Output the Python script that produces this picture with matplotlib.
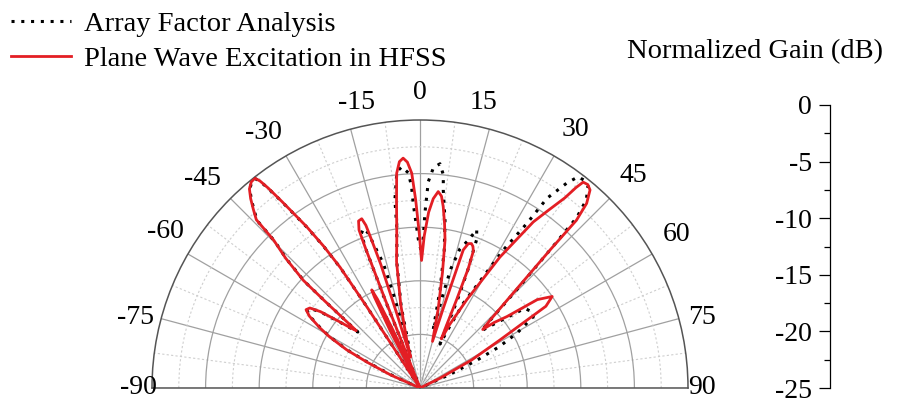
import numpy as np
import matplotlib.pyplot as plt
from matplotlib.lines import Line2D

plt.rcParams['font.family'] = ['Liberation Serif', 'DejaVu Serif']

# pattern cuts: angle (deg) and normalized gain (dB)
hfss_theta = [-90, -70, -66, -64, -62.5, -60.5, -59, -57, -55.5, -54, -52.5, -50.5, -49, -48,
              -47.6, -47.3, -46, -44.7, -44.2, -43, -41.8, -40.6, -39.3, -38.2, -37.7, -37.2, -36.5,
              -35.1, -34.2, -33.5, -33.2, -33,
              -28.5, -27.5, -26.6, -26.2, -25.6, -25, -24.4,
              -21.8, -21.5, -21.3, -21.1, -20.2, -19, -18.4, -18.1, -17.6, -17.3, -17,
              -15.5, -13, -10.5, -8.9, -7.1, -6.2, -5.2, -4.2, -3.2, -2.2, -1.3, -0.3, 0.7,
              1.6, 2.8, 4, 5.3, 6.4, 7.3, 8.5, 9.6, 11, 13, 15,
              16.2, 17.1, 17.4, 18.5, 19.6, 20.5, 21.3, 22, 22.5, 23, 23.5,
              25, 27.9, 31.4, 34.3, 35.8, 37.3, 37.9, 38.4, 39.5, 40.65, 42.07, 43, 43.3, 44.6, 46, 47,
              48.5, 50.6, 53, 55.3, 57, 59, 61.5, 64, 66, 90]
hfss_gain = [-25, -25, -22, -19.5, -17.3, -15.3, -14.1, -12.7, -12.1, -12.3, -13.3, -15.3, -16.5, -17,
             -13, -10.2, -7.6, -5.6, -3.1, -2.2, -1.3, -0.55, -0.15, -0.1, -0.6, -1.6, -3.4,
             -6.6, -9.0, -11.5, -16, -25,
             -25, -19, -15.5, -14.8, -15.8, -19, -25,
             -25, -16, -11, -9.2, -8.4, -8.3, -9.0, -10.5, -12.9, -18, -22,
             -20.4, -17, -13, -11, -7.3, -4.85, -3.8, -3.5, -3.9, -4.95, -7.5, -10.5, -13.1,
             -10.8, -8.6, -7.3, -6.6, -7.0, -7.95, -9.5, -11, -14, -17.5, -20.5,
             -17.5, -13.7, -11.5, -10.8, -10.7, -10.9, -11.3, -13, -16, -19, -20,
             -18.5, -15.7, -10.7, -6.25, -4.6, -2.7, -1.3, -0.5, -0.4, -0.65, -1.8, -3.6, -7.3, -13, -16, -17,
             -15.8, -14.5, -11.3, -10, -11, -16.3, -19.5, -23, -25, -25]

af_theta = [-90, -70, -66, -64, -62.5, -60.5, -59, -57, -55.5, -54, -52.5, -50.5, -49, -48,
            -47.6, -47.3, -46, -44.7, -44.2, -43, -41.8, -40.6, -39.3, -38.2, -37.7, -37.2, -36.5,
            -35.1, -34.2, -33.5, -33.2, -33,
            -28, -26.5, -26, -25.5, -24.8,
            -22, -21.6, -21.3, -20.8, -19.5, -18.6, -17.9, -16.4, -15.8, -15.6,
            -13, -10.5, -8.2, -7.6, -6.1, -4.7, -3.1, -2.4, -2.1, -1.2, -0.6, 0.7,
            1.26, 1.6, 2.3, 3.5, 5.1, 6.25, 6.7, 8.5, 10, 11.5, 12.8,
            13.8, 14.5, 16, 18.1, 19.7, 20.9, 21.2, 22, 23, 24.5,
            25.5, 27.1, 29.6, 31.1, 33, 33.8, 35.6, 36.8, 38.2, 39.8, 41.5, 42.6, 43.2, 44.5, 45.8, 47,
            49, 51, 52.8, 55.7, 57.8, 60.5, 62.5, 64, 65.5, 67, 90]
af_gain = [-25, -25, -22.5, -19.8, -17.5, -15.4, -14.2, -12.8, -12.2, -12.4, -13.4, -15.4, -16.6, -17.2,
           -13.2, -10.3, -7.7, -5.7, -3.2, -2.3, -1.4, -0.6, -0.2, -0.15, -0.7, -1.7, -3.5,
           -6.7, -9.1, -11.6, -16, -25,
           -25, -17, -16.5, -17.5, -25,
           -25, -16, -11, -9.6, -9.2, -9.7, -10.8, -12.9, -16, -21.5,
           -17.2, -13.2, -9.8, -7.3, -4.7, -4.3, -4.9, -6.2, -7.8, -10, -11.2, -12.4,
           -10.9, -8.7, -5.74, -4.4, -4.0, -5.0, -6.4, -9.2, -12, -15.6, -19.5,
           -16, -13.5, -11.5, -10.5, -9.3, -10.2, -11.2, -12.9, -16, -20.5,
           -19, -16.1, -13.1, -10, -6.7, -3.7, -1.5, -0.41, -0.3, -0.5, -1.6, -3.4, -6.8, -12, -15.5, -17.2,
           -16, -14.5, -12.7, -12.4, -12.5, -14.6, -16.7, -19.1, -22, -25, -25]

theta_ticks = list(range(-90, 91, 15))
theta_minor = [t + 7.5 for t in range(-90, 90, 15)]
gain_ticks = [0, -5, -10, -15, -20, -25]
gain_minor = [-2.5, -7.5, -12.5, -17.5, -22.5]

red = '#e31e24'
W, H = 909, 403
cx, cy, R = 420, 388, 268   # pixel centre and radius of the half disc

fig = plt.figure(figsize=(W / 100, H / 100), dpi=100)
# polar wedge is padded to a square box; the half disc sits in its middle half
ax = fig.add_axes([(cx - R) / W, (H - cy - R / 2) / H, 2 * R / W, 2 * R / H], projection='polar')
ax.set_theta_zero_location('N')
ax.set_theta_direction(-1)
ax.set_thetamin(-90)
ax.set_thetamax(90)
ax.set_rlim(-25, 0)

ax.plot(np.deg2rad(af_theta), af_gain, color='black', lw=2.2,
        linestyle=(0, (1, 2.2)), zorder=3)
ax.plot(np.deg2rad(hfss_theta), hfss_gain, color=red, lw=2.0, zorder=4)

ax.set_xticks(np.deg2rad(theta_ticks))
ax.set_xticklabels([])
ax.set_xticks(np.deg2rad(theta_minor), minor=True)
ax.set_yticks([-20, -15, -10, -5])
ax.set_yticks(gain_minor, minor=True)
ax.set_yticklabels([])
ax.xaxis.grid(True, which='major', color='#a0a0a0', lw=0.9, ls='-')
ax.xaxis.grid(True, which='minor', color='#cfcfcf', lw=0.8, ls=(0, (2, 2)))
ax.yaxis.grid(True, which='major', color='#a0a0a0', lw=0.9, ls='-')
ax.yaxis.grid(True, which='minor', color='#cfcfcf', lw=0.8, ls=(0, (2, 2)))
ax.tick_params(axis='x', which='major', direction='in', length=6, color='#555555')
ax.tick_params(axis='x', which='minor', direction='in', length=4, color='#555555')
ax.tick_params(axis='y', which='both', length=0)
for s in ['polar', 'start', 'end']:
    ax.spines[s].set_color('#555555')
    ax.spines[s].set_linewidth(1.1)

# angle labels outside the rim: (direction in deg, gap in px) per label
label_place = {-90: (-90, 14), -75: (-76, 25), -60: (-58.5, 31), -45: (-46, 34),
               -30: (-31.5, 32), -15: (-12.5, 24), 0: (0, 27), 15: (12.5, 24),
               30: (31, 33), 45: (45, 33), 60: (59, 31), 75: (76, 23), 90: (90, 14)}
px = 25 / R  # dB per pixel
for t in theta_ticks:
    ang, gap = label_place[t]
    ax.text(np.deg2rad(ang), gap * px, str(t), ha='center', va='center', fontsize=20)

# separate gain scale on the right
gax = fig.add_axes([830 / W, 15 / H, 0.0005, 283 / H])
gax.set_ylim(-25, 0)
gax.set_xticks([])
gax.set_yticks(gain_ticks)
gax.set_yticks(gain_minor, minor=True)
gax.set_yticklabels([str(g) for g in gain_ticks])
gax.tick_params(axis='y', which='major', direction='out', length=8, width=0.9, labelsize=20, pad=5)
gax.tick_params(axis='y', which='minor', direction='out', length=4, width=0.9)
for s in ['top', 'right', 'bottom']:
    gax.spines[s].set_visible(False)
gax.spines['left'].set_linewidth(0.9)
gax.patch.set_visible(False)

fig.text(755 / W, 1 - 52 / H, 'Normalized Gain (dB)', ha='center', va='center', fontsize=20.5)

handles = [Line2D([], [], color='black', lw=2.2, linestyle=(0, (1, 2.2))),
           Line2D([], [], color=red, lw=2.0)]
fig.legend(handles, ['Array Factor Analysis', 'Plane Wave Excitation in HFSS'],
           loc='upper left', bbox_to_anchor=(0.0, 1.0), frameon=False, fontsize=20.5,
           handlelength=2.1, handletextpad=0.45, labelspacing=0.3, borderaxespad=0.1,
           borderpad=0.3)

fig.savefig('out.png', dpi=100)
